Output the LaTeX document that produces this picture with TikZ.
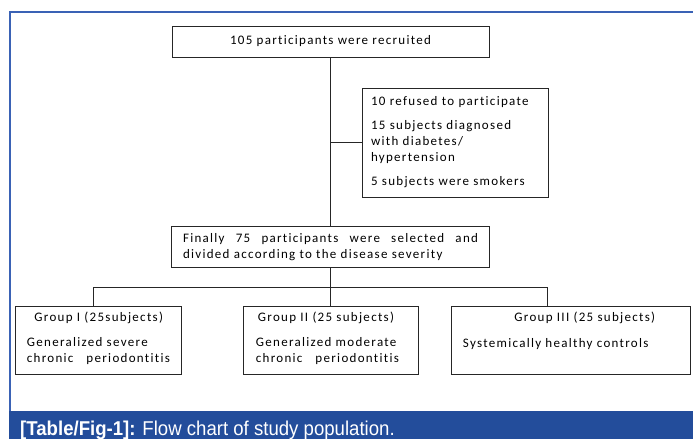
\documentclass[tikz,border=0pt]{standalone}
\usepackage{fontspec}
\setmainfont{Carlito}[LetterSpace=10, Ligatures=NoCommon]
\newfontfamily\capfont{Liberation Sans}[FakeStretch=0.93]
\usetikzlibrary{positioning}

\definecolor{frameblue}{RGB}{58,98,181}
\definecolor{capblue}{RGB}{35,77,155}

\tikzset{
    flowbox/.style={draw=black!85, line width=1pt, inner sep=0pt},
    flowtext/.style={inner sep=0pt, font=\fontsize{13}{16}\selectfont},
    link/.style={draw=black!85, line width=1pt}
}

\begin{document}
\begin{tikzpicture}[x=1pt, y=-1pt]
    \useasboundingbox (0,0) rectangle (693,439);

    % Frame and caption bar
    \draw[frameblue, line width=1.6pt] (10,411) -- (10,11.7) -- (693,11.7);
    \fill[capblue] (8.5,411) rectangle (693,439);
    \node[anchor=base west, inner sep=0pt, text=white,
          font=\capfont\fontsize{20}{24}\selectfont] (caption) at (20,435)
          {\textbf{[Table/Fig-1]:} Flow chart of study population.};

    % Recruitment and exclusions
    \node[flowbox, flowtext, minimum width=317pt, minimum height=31pt] (recruit) at (330.5,41.5)
          {105 participants were recruited};
    \node[flowbox, flowtext, minimum width=186pt, minimum height=109pt,
          text width=168pt, inner xsep=9pt, align=left] (excluded) at (455,142.5)
          {10 refused to participate\\[8pt]15 subjects diagnosed\\with diabetes/\\hypertension\\[8pt]5 subjects were smokers};

    % Selected participants
    \node[flowbox, flowtext, minimum width=318pt, minimum height=41pt,
          text width=295pt, align=justify] (selected) at (330.5,247)
          {Finally 75 participants were selected and\linebreak divided according to the disease severity};

    % Groups
    \node[flowbox, minimum width=166pt, minimum height=68pt] (groupI) at (98.7,340.7) {};
    \node[flowtext] (groupIhead) at (98.7,317.7) {Group I (25subjects)};
    \node[flowtext, anchor=west, align=left] (groupIbody) at (26.7,351.5)
          {Generalized severe\\chronic\hspace{1em}periodontitis};

    \node[flowbox, minimum width=175pt, minimum height=68pt] (groupII) at (330.5,340.7) {};
    \node[flowtext] (groupIIhead) at (326,317.7) {Group II (25 subjects)};
    \node[flowtext, anchor=west, align=left] (groupIIbody) at (255.7,351)
          {Generalized moderate\\chronic\hspace{1em}periodontitis};

    \node[flowbox, minimum width=238.7pt, minimum height=68pt] (groupIII) at (571.3,340.7) {};
    \node[flowtext] (groupIIIhead) at (584.8,317.7) {Group III (25 subjects)};
    \node[flowtext, anchor=west] (groupIIIbody) at (462.7,344) {Systemically healthy controls};

    % Connectors
    \coordinate (split) at (330.5,287);
    \coordinate (gIlink) at (93,306.7);
    \coordinate (gIIIlink) at (547.7,306.7);
    \draw[link] (recruit.south) -- (selected.north);
    \draw[link] (recruit.south |- excluded.west) -- (excluded.west);
    \draw[link] (selected.south) -- (groupII.north);
    \draw[link] (gIlink) -- (gIlink |- split) -- (split -| gIIIlink) -- (gIIIlink);
\end{tikzpicture}
\end{document}
